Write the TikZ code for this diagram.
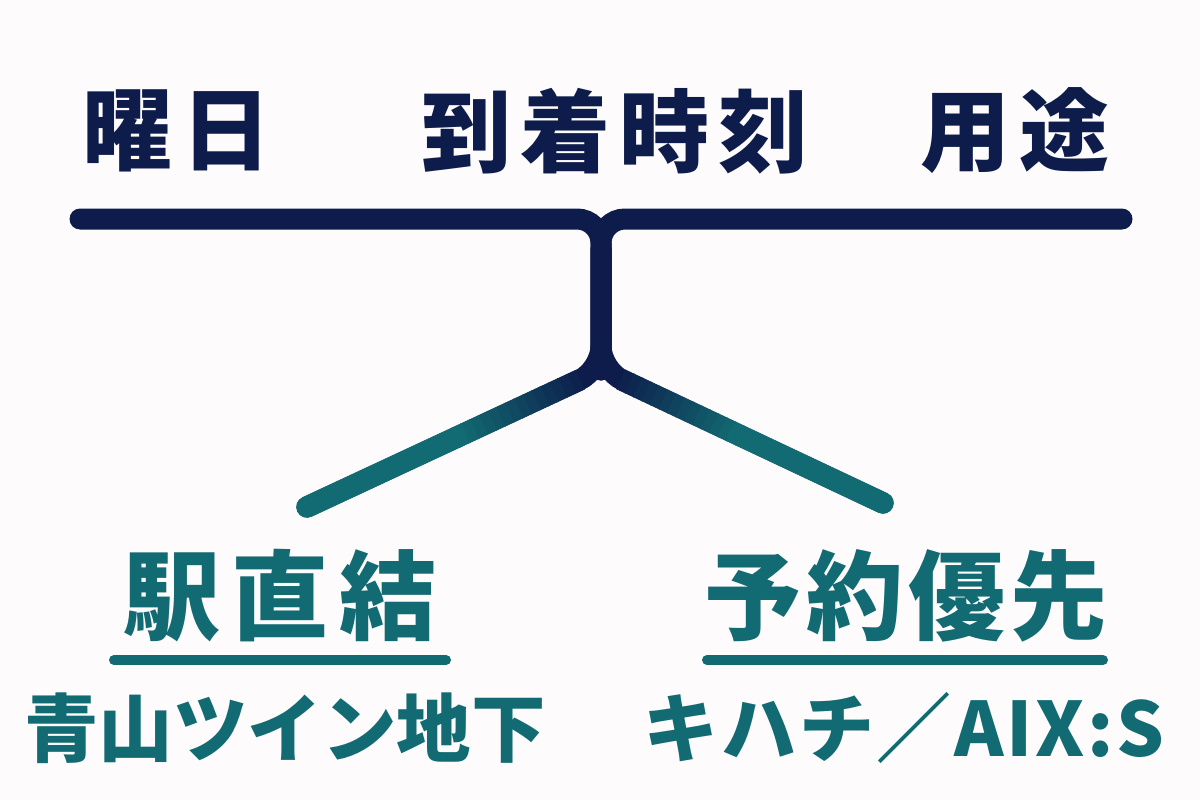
\documentclass[tikz,border=0pt]{standalone}
\usepackage{fontspec}
\usetikzlibrary{calc}
\newfontfamily\hdfont{Noto Sans CJK JP}[LetterSpace=10]
\newfontfamily\bigfont{Noto Sans CJK JP}[LetterSpace=11]
\newfontfamily\bigfontb{Noto Sans CJK JP}[LetterSpace=5]
\newfontfamily\smfont{Noto Sans CJK JP}
\newfontfamily\smfontb{Noto Sans CJK JP}[LetterSpace=3.5]
\definecolor{navy}{RGB}{13,28,74}
\definecolor{tealc}{RGB}{18,106,114}
\definecolor{bgc}{RGB}{253,251,251}
\tikzset{
  hdr/.style={text=navy, inner sep=0pt, font=\hdfont\bfseries\fontsize{90}{92}\selectfont},
  bigl/.style={text=tealc, inner sep=0pt, font=\bigfont\bfseries\fontsize{97}{99}\selectfont},
  bigr/.style={text=tealc, inner sep=0pt, font=\bigfontb\bfseries\fontsize{97}{99}\selectfont},
  sml/.style={text=tealc, inner sep=0pt, font=\smfont\bfseries\fontsize{74.5}{77}\selectfont},
  smr/.style={text=tealc, inner sep=0pt, font=\smfontb\bfseries\fontsize{75}{77}\selectfont},
  trunk/.style={draw=navy, line width=21pt, line cap=round, rounded corners=24pt},
  uline/.style={draw=tealc, line width=10pt, line cap=round}
}
\begin{document}
\begin{tikzpicture}[x=1pt,y=-1pt]
\fill[bgc] (0,0) rectangle (1200,800);
\useasboundingbox (0,0) rectangle (1200,800);
% headers
\node[hdr] (day) at (177,131) {曜日};
\node[hdr] (arr) at (615,131) {到着時刻};
\node[hdr] (use) at (1015,131) {用途};
% coordinates of the bracket
\coordinate (TL) at (80,219);
\coordinate (TR) at (1122,219);
\coordinate (TM) at (601,219);
\coordinate (J) at (601,370);
\coordinate (L) at (307,507);
\coordinate (R) at (883,503);
% top bar and stem
\draw[trunk] (TL) -- (TM) -- (J);
\draw[trunk] (TR) -- (TM) -- (J);
\draw[trunk] ($(TM)+(0,30)$) -- (J) -- (L);
\draw[trunk] ($(TM)+(0,30)$) -- (J) -- (R);
% gradient navy -> teal along the branches
\foreach \e in {L,R}{
  \foreach \i in {0,...,13}{
    \pgfmathsetmacro\ta{0.07+\i*0.03}
    \pgfmathsetmacro\tb{0.07+(\i+1)*0.03+0.004}
    \pgfmathsetmacro\cc{100*(\i+1)/14}
    \draw[line width=21.6pt, draw=tealc!\cc!navy] ($(J)!\ta!(\e)$) -- ($(J)!\tb!(\e)$);
  }
  \draw[line width=21.6pt, draw=tealc, line cap=round] ($(J)!0.49!(\e)$) -- (\e);
}
% bottom labels
\node[bigl] (lt) at (280,596) {駅直結};
\node[bigr] (rt) at (906,596) {予約優先};
\coordinate (ul1) at (114,660);
\coordinate (ul2) at (446,660);
\coordinate (ur1) at (707,660);
\coordinate (ur2) at (1103,660);
\draw[uline] (ul1) -- (ul2);
\draw[uline] (ur1) -- (ur2);
\node[sml] (ls) at (285,728) {青山ツイン地下};
\node[smr] (rs) at (904,728) {キハチ／AIX:S};
\end{tikzpicture}
\end{document}
